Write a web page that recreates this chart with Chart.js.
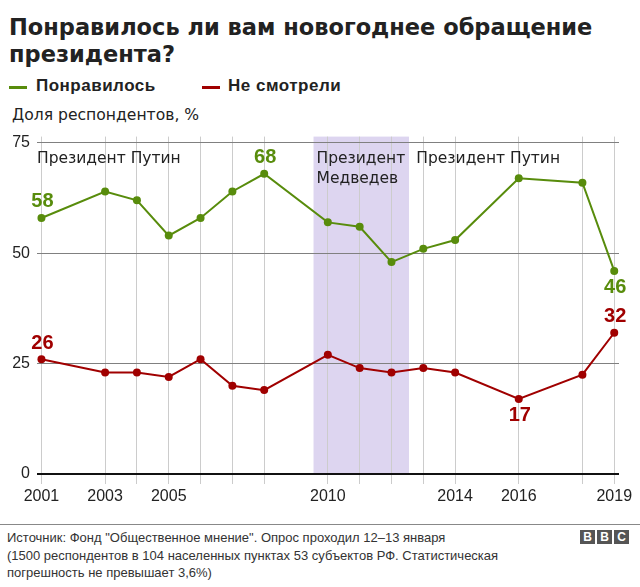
<!DOCTYPE html>
<html lang="ru">
<head>
<meta charset="utf-8">
<script src="https://cdn.jsdelivr.net/npm/chart.js@4/dist/chart.umd.min.js"></script>
<style>
    body { margin: 0; width: 640px; height: 587px; background: #fff; font-family: "Liberation Sans", Arial, sans-serif; color: #222; position: relative; overflow: hidden; }
    .title { position: absolute; left: 9px; top: 14px; font-family: "DejaVu Sans", sans-serif; font-size: 22.5px; font-weight: bold; line-height: 27px; width: 630px; }
    .legend { position: absolute; left: 9px; top: 76px; font-size: 17px; font-weight: bold; letter-spacing: 0.5px; }
    .legend span { position: absolute; white-space: nowrap; }
    .legend i { position: absolute; height: 3px; width: 18px; top: 10px; }
    .sub { position: absolute; left: 12px; top: 106px; font-family: "DejaVu Sans", sans-serif; font-size: 15.6px; white-space: nowrap; }
    #wrap { position: absolute; left: 0; top: 120px; }
    .rule { position: absolute; left: 0; right: 0; top: 524px; border-top: 1px solid #888; }
    .source { position: absolute; left: 7px; top: 529px; font-size: 13px; line-height: 17.5px; color: #333; }
    .bbc { position: absolute; left: 580px; top: 530px; }
    .bbc b { float: left; width: 15px; height: 14px; margin-right: 2px; background: #555; color: #fff; font-size: 12px; line-height: 14px; text-align: center; }
</style>
</head>
<body>
<div class="title">Понравилось ли вам новогоднее обращение<br>президента?</div>
<div class="legend">
    <i style="left:0; background:#588c0c"></i><span style="left:27px">Понравилось</span>
    <i style="left:193px; background:#a00000"></i><span style="left:219px">Не смотрели</span>
</div>
<div class="sub">Доля респондентов, %</div>
<div id="wrap"><canvas id="mainChart" width="640" height="392"></canvas></div>
<div class="rule"></div>
<div class="source">Источник: Фонд "Общественное мнение". Опрос проходил 12–13 января<br>(1500 респондентов в 104 населенных пунктах 53 субъектов РФ. Статистическая<br>погрешность не превышает 3,6%)</div>
<div class="bbc"><b>B</b><b>B</b><b>C</b></div>

<script>
// данные
const years = [2001, 2003, 2004, 2005, 2006, 2007, 2008, 2010, 2011, 2012, 2013, 2014, 2016, 2018, 2019];
const liked = [58, 64, 62, 54, 58, 64, 68, 57, 56, 48, 51, 53, 67, 66, 46];
const notWatched = [26, 23, 23, 22, 26, 20, 19, 27, 24, 23, 24, 23, 17, 22.5, 32];
const labelYears = [2001, 2003, 2005, 2010, 2014, 2016, 2019];
const yTicks = [0, 25, 50, 75];
const medvedevYears = [2009.55, 2012.55];

const GREEN = '#588c0c';
const RED = '#a00000';

// подписи значений: [набор, год, над/под]
const valueLabels = [
    [0, 2001, 'up'], [0, 2008, 'up'], [0, 2019, 'down'],
    [1, 2001, 'up'], [1, 2016, 'down'], [1, 2019, 'up']
];

function toPoints(vals) {
    return years.map((y, i) => ({x: y, y: vals[i]}));
}

const bandPlugin = {
    id: 'band',
    beforeDraw(chart) {
        const {ctx, chartArea, scales} = chart;
        const x1 = scales.x.getPixelForValue(medvedevYears[0]);
        const x2 = scales.x.getPixelForValue(medvedevYears[1]);
        ctx.save();
        ctx.fillStyle = '#ddd5f0';
        ctx.fillRect(x1, chartArea.top, x2 - x1, scales.y.getPixelForValue(0) - chartArea.top);
        ctx.restore();
    }
};

const textPlugin = {
    id: 'texts',
    afterDatasetsDraw(chart) {
        const {ctx, chartArea, scales} = chart;
        ctx.save();
        // президенты
        ctx.font = '15.5px "DejaVu Sans", sans-serif';
        ctx.fillStyle = '#222';
        ctx.textAlign = 'left';
        ctx.textBaseline = 'middle';
        const top = chartArea.top + 22;
        ctx.fillText('Президент Путин', chartArea.left, top);
        const mx = scales.x.getPixelForValue(medvedevYears[0]) + 3;
        ctx.fillText('Президент', mx, top);
        ctx.fillText('Медведев', mx, top + 20);
        ctx.fillText('Президент Путин', scales.x.getPixelForValue(2013) - 7, top);

        // значения
        ctx.font = 'bold 20px "Liberation Sans", Arial, sans-serif';
        ctx.textAlign = 'center';
        valueLabels.forEach(([ds, yr, pos]) => {
            const vals = ds === 0 ? liked : notWatched;
            const v = vals[years.indexOf(yr)];
            const px = scales.x.getPixelForValue(yr);
            const py = scales.y.getPixelForValue(v);
            ctx.fillStyle = ds === 0 ? GREEN : RED;
            ctx.fillText(String(v), px + 1, pos === 'up' ? py - 16 : py + 17);
        });
        ctx.restore();
    }
};

new Chart(document.getElementById('mainChart'), {
    type: 'line',
    data: {
        datasets: [
            { label: 'Понравилось', data: toPoints(liked), borderColor: GREEN, backgroundColor: GREEN, borderWidth: 2, pointRadius: 4, pointBorderWidth: 0, tension: 0 },
            { label: 'Не смотрели', data: toPoints(notWatched), borderColor: RED, backgroundColor: RED, borderWidth: 2, pointRadius: 4, pointBorderWidth: 0, tension: 0 }
        ]
    },
    options: {
        responsive: false,
        animation: false,
        layout: { padding: { top: 11, right: 21, left: 0, bottom: 0 } },
        plugins: { legend: { display: false }, tooltip: { enabled: false } },
        scales: {
            x: {
                type: 'linear',
                min: 2000.86,
                max: 2019.15,
                afterBuildTicks(axis) { axis.ticks = years.map(v => ({value: v})); },
                afterFit(axis) { axis.height = 38; },
                border: { display: false },
                grid: { color: '#cccccc', lineWidth: 1, tickLength: 10, tickColor: '#cccccc' },
                ticks: {
                    autoSkip: false, maxRotation: 0, padding: 3, color: '#222',
                    font: { size: 16, family: '"Liberation Sans", Arial, sans-serif' },
                    callback: v => labelYears.includes(v) ? String(v) : ''
                }
            },
            y: {
                min: 0,
                max: 76.43,
                afterBuildTicks(axis) { axis.ticks = yTicks.map(v => ({value: v})); },
                afterFit(axis) { axis.width = 37; },
                border: { display: false },
                grid: {
                    drawTicks: false,
                    color: c => c.tick && c.tick.value === 0 ? '#111' : '#808080',
                    lineWidth: c => c.tick && c.tick.value === 0 ? 2 : 1
                },
                ticks: { padding: 7, color: '#222', font: { size: 16, family: '"Liberation Sans", Arial, sans-serif' } }
            }
        }
    },
    plugins: [bandPlugin, textPlugin]
});
</script>
</body>
</html>
